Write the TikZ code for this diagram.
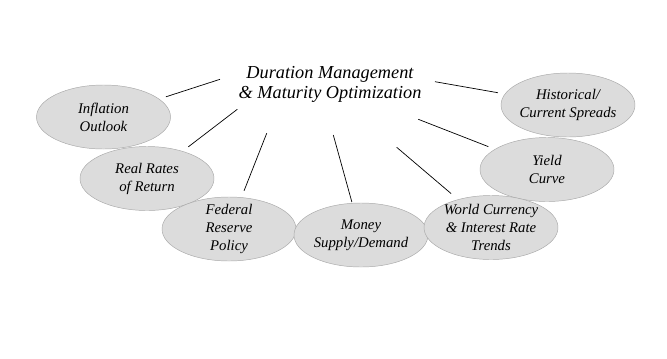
\documentclass[tikz,border=0pt]{standalone}
\usepackage{fontspec}
\setmainfont{Liberation Serif}
\usetikzlibrary{shapes.geometric}
\definecolor{blobfill}{HTML}{DCDCDC}
\definecolor{blobline}{HTML}{A9A9A9}

\begin{document}
\begin{tikzpicture}[x=0.03cm, y=-0.03cm,
          blob/.style={ellipse, draw=blobline, fill=blobfill, minimum width=4.02cm, minimum height=1.92cm, inner sep=0pt},
          blobtext/.style={align=center, font=\fontsize{12.6}{15.3}\selectfont\itshape},
          ttl/.style={align=center, font=\fontsize{15.6}{17}\selectfont\itshape},
          link/.style={line width=0.6pt, shorten >=0.21cm}]
        \useasboundingbox (0,0) rectangle (667,358);
        \node[ttl] (title) at (330,84) {Duration Management\\ \& Maturity Optimization};
        % ovals, left to right
        \node[blob] (infl) at (103.5,117) {};
        \node[blobtext] (inflT) at (infl) {Inflation\\ Outlook};
        \node[blob] (real) at (147,178.5) {};
        \node[blobtext] (realT) at (real) {Real Rates\\ of Return};
        \node[blob] (fed) at (229,229) {};
        \node[blobtext] (fedT) at (fed) {Federal\\ Reserve\\ Policy};
        \node[blob] (money) at (361,235) {};
        \node[blobtext] (moneyT) at (money) {Money\\ Supply/Demand};
        \node[blob] (hist) at (568,105) {};
        \node[blobtext] (histT) at (hist) {Historical/\\ Current Spreads};
        \node[blob] (yield) at (547,169.5) {};
        \node[blobtext] (yieldT) at (yield) {Yield\\ Curve};
        \node[blob] (world) at (491,227.5) {};
        \node[blobtext] (worldT) at (world) {World Currency\\ \& Interest Rate\\ Trends};
        % line starts round the title
        \coordinate (sInfl) at (220,79.3);
        \coordinate (sReal) at (237.3,109.3);
        \coordinate (sFed) at (266.7,133.3);
        \coordinate (sMoney) at (333.3,135);
        \coordinate (sWorld) at (396.7,147.3);
        \coordinate (sYield) at (418.3,119.3);
        \coordinate (sHist) at (435,81.7);
        \draw[link] (sInfl) -- (infl);
        \draw[link] (sReal) -- (real);
        \draw[link] (sFed) -- (fed);
        \draw[link, shorten >=0.03cm] (sMoney) -- (money);
        \draw[link, shorten >=0.27cm] (sWorld) -- (world);
        \draw[link] (sYield) -- (yield);
        \draw[link] (sHist) -- (hist);
      \end{tikzpicture}
\end{document}
